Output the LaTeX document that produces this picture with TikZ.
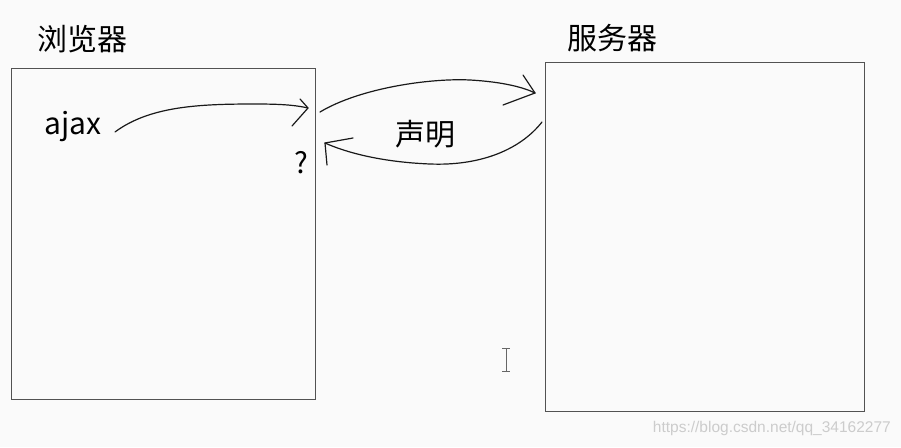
\documentclass[tikz,border=0pt]{standalone}
\usepackage{fontspec}
\setmainfont{Noto Sans CJK SC}
\newfontfamily\wmfont{Liberation Sans}
\begin{document}
\begin{tikzpicture}[x=1pt,y=-1pt,
  box/.style={draw=black!68,line width=1.4pt},
  hand/.style={draw=black!90,line width=1.2pt,line cap=round,line join=round},
  lbl/.style={inner sep=0pt,text=black,font=\fontsize{30}{34}\selectfont}]
\fill[black!2] (0,0) rectangle (901,447);
\useasboundingbox (0,0) rectangle (901,447);
% boxes
\node[box,minimum width=304pt,minimum height=331pt,anchor=north west,inner sep=0pt] (browser) at (11,68) {};
\node[box,minimum width=319pt,minimum height=349pt,anchor=north west,inner sep=0pt] (server) at (545,62) {};
% titles
\node[lbl] (bt) at (82,39) {浏览器};
\node[lbl] (st) at (612,38) {服务器};
\node[lbl] (ajax) at (73,127) {ajax};
\node[lbl,font=\fontsize{29}{32}\selectfont] (q) at (301,163) {?};
\node[lbl] (decl) at (425,134) {声明};
% arrow 1
\coordinate (a1s) at (115,132);
\coordinate (a1t) at (308,108);
\draw[hand] (a1s) .. controls (150,106) and (200,104) .. (255,104) .. controls (280,104) and (295,105) .. (a1t);
\draw[hand] (300,99) -- (a1t) -- (292,126);
% arrow 2
\coordinate (a2s) at (320,112);
\coordinate (a2t) at (535,93);
\draw[hand] (a2s) .. controls (360,88) and (430,78) .. (470,80) .. controls (505,82) and (525,88) .. (a2t);
\draw[hand] (523,75) -- (a2t) -- (503,105);
% arrow 3
\coordinate (a3s) at (542,122);
\coordinate (a3t) at (325,143);
\draw[hand] (a3s) .. controls (520,150) and (480,166) .. (430,164) .. controls (380,162) and (345,152) .. (a3t);
\draw[hand] (353,138) -- (a3t) -- (327,165);
% text cursor
\draw[black!60,line width=1pt] (506,348) -- (506,371) (502,348) -- (510,348) (502,371) -- (510,371);
% watermark
\node[inner sep=0pt,anchor=east,text=black!20,font=\wmfont\fontsize{15.5}{17}\selectfont] (wm) at (891,428) {https://blog.csdn.net/qq\_34162277};
\end{tikzpicture}
\end{document}
